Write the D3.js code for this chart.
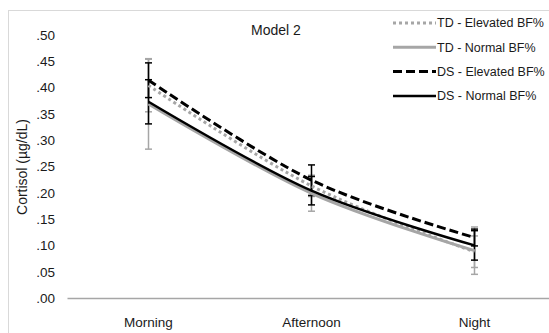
<!DOCTYPE html>
<html>
<head>
<meta charset="utf-8">
<script src="https://cdn.jsdelivr.net/npm/d3@7"></script>
<style>
  body { margin: 0; background: #fff; }
  svg { display: block; font-family: "Liberation Sans", Arial, sans-serif; }
</style>
</head>
<body>
<div id="chart"></div>
<script>
// data
const categories = ["Morning", "Afternoon", "Night"];
const seriesNames = ["TD - Elevated BF%", "TD - Normal BF%", "DS - Elevated BF%", "DS - Normal BF%"];
const tdElevated = [0.404, 0.213, 0.088];
const tdNormal = [0.369, 0.199, 0.090];
const dsElevated = [0.414, 0.224, 0.115];
const dsNormal = [0.373, 0.204, 0.100];
const tdElevatedErr = [0.050, 0.020, 0.030];
const tdNormalErr = [0.086, 0.034, 0.045];
const dsElevatedErr = [0.033, 0.029, 0.016];
const dsNormalErr = [0.042, 0.027, 0.028];
const yTicks = [0, 0.05, 0.1, 0.15, 0.2, 0.25, 0.3, 0.35, 0.4, 0.45, 0.5];

const styles = [
  { color: "#a6a6a6", width: 3, dash: "3,3" },
  { color: "#a6a6a6", width: 3, dash: null },
  { color: "#000", width: 3, dash: "9,4" },
  { color: "#000", width: 2.5, dash: null },
];

const series = [
  { name: seriesNames[0], values: tdElevated, err: tdElevatedErr, style: styles[0] },
  { name: seriesNames[1], values: tdNormal, err: tdNormalErr, style: styles[1] },
  { name: seriesNames[2], values: dsElevated, err: dsElevatedErr, style: styles[2] },
  { name: seriesNames[3], values: dsNormal, err: dsNormalErr, style: styles[3] },
];

const width = 549, height = 333;
const textColor = "#1a1a1a";
const svg = d3.select("#chart").append("svg")
  .attr("width", width).attr("height", height);

// outer frame
svg.append("rect")
  .attr("x", 8.5).attr("y", 10.5)
  .attr("width", 600).attr("height", 400)
  .attr("fill", "none").attr("stroke", "#d9d9d9");

const xScale = d3.scaleBand().domain(categories).range([67, 556]);
const yScale = d3.scaleLinear().domain([0, 0.5]).range([298, 35]);
const xc = (c) => xScale(c) + xScale.bandwidth() / 2;

// y labels
const fmt = (d) => d3.format(".2f")(d).replace(/^0/, "");
const yAxis = d3.axisLeft(yScale).tickValues(yTicks).tickFormat(fmt).tickSize(0).tickPadding(0);
const yG = svg.append("g").attr("transform", "translate(55,0)").call(yAxis);
yG.select(".domain").remove();
yG.selectAll("text").attr("font-size", 13.5).attr("fill", textColor)
  .attr("font-family", "Liberation Sans, Arial, sans-serif");

// x axis
const xAxis = d3.axisBottom(xScale).tickSize(0).tickPadding(19);
const xG = svg.append("g").attr("transform", "translate(0,298)").call(xAxis);
xG.select(".domain").attr("stroke", "#a6a6a6").attr("stroke-width", 1.3);
xG.selectAll("text").attr("font-size", 13.5).attr("fill", textColor)
  .attr("font-family", "Liberation Sans, Arial, sans-serif");

// axis title
svg.append("text")
  .attr("transform", "translate(27,167) rotate(-90)")
  .attr("text-anchor", "middle").attr("font-size", 14).attr("fill", textColor)
  .text("Cortisol (µg/dL)");

// chart title
svg.append("text")
  .attr("x", 276).attr("y", 35)
  .attr("text-anchor", "middle").attr("font-size", 14).attr("fill", textColor)
  .text("Model 2");

// error bars
series.forEach((s) => {
  const g = svg.append("g").attr("stroke", s.style.color).attr("stroke-width", 1.5);
  s.values.forEach((v, i) => {
    const x = xc(categories[i]);
    const hi = yScale(v + s.err[i]), lo = yScale(v - s.err[i]);
    g.append("line").attr("x1", x).attr("x2", x).attr("y1", hi).attr("y2", lo);
    g.append("line").attr("x1", x - 3.5).attr("x2", x + 3.5).attr("y1", hi).attr("y2", hi);
    g.append("line").attr("x1", x - 3.5).attr("x2", x + 3.5).attr("y1", lo).attr("y2", lo);
  });
});

// smoothed lines
const line = d3.line()
  .x((d, i) => xc(categories[i]))
  .y((d) => yScale(d))
  .curve(d3.curveCatmullRom.alpha(0));

series.forEach((s) => {
  svg.append("path")
    .datum(s.values)
    .attr("d", line)
    .attr("fill", "none")
    .attr("stroke", s.style.color)
    .attr("stroke-width", s.style.width)
    .attr("stroke-dasharray", s.style.dash);
});

// legend
const legend = svg.append("g").attr("transform", "translate(393,23)");
series.forEach((s, i) => {
  const row = legend.append("g").attr("transform", `translate(0,${i * 24.3})`);
  row.append("line")
    .attr("x1", 0).attr("x2", 43).attr("y1", 0).attr("y2", 0)
    .attr("stroke", s.style.color)
    .attr("stroke-width", s.style.width)
    .attr("stroke-dasharray", s.style.dash);
  row.append("text")
    .attr("x", 44).attr("y", 0).attr("dy", "0.35em")
    .attr("font-size", 12.5).attr("fill", textColor)
    .text(s.name);
});
</script>
</body>
</html>
